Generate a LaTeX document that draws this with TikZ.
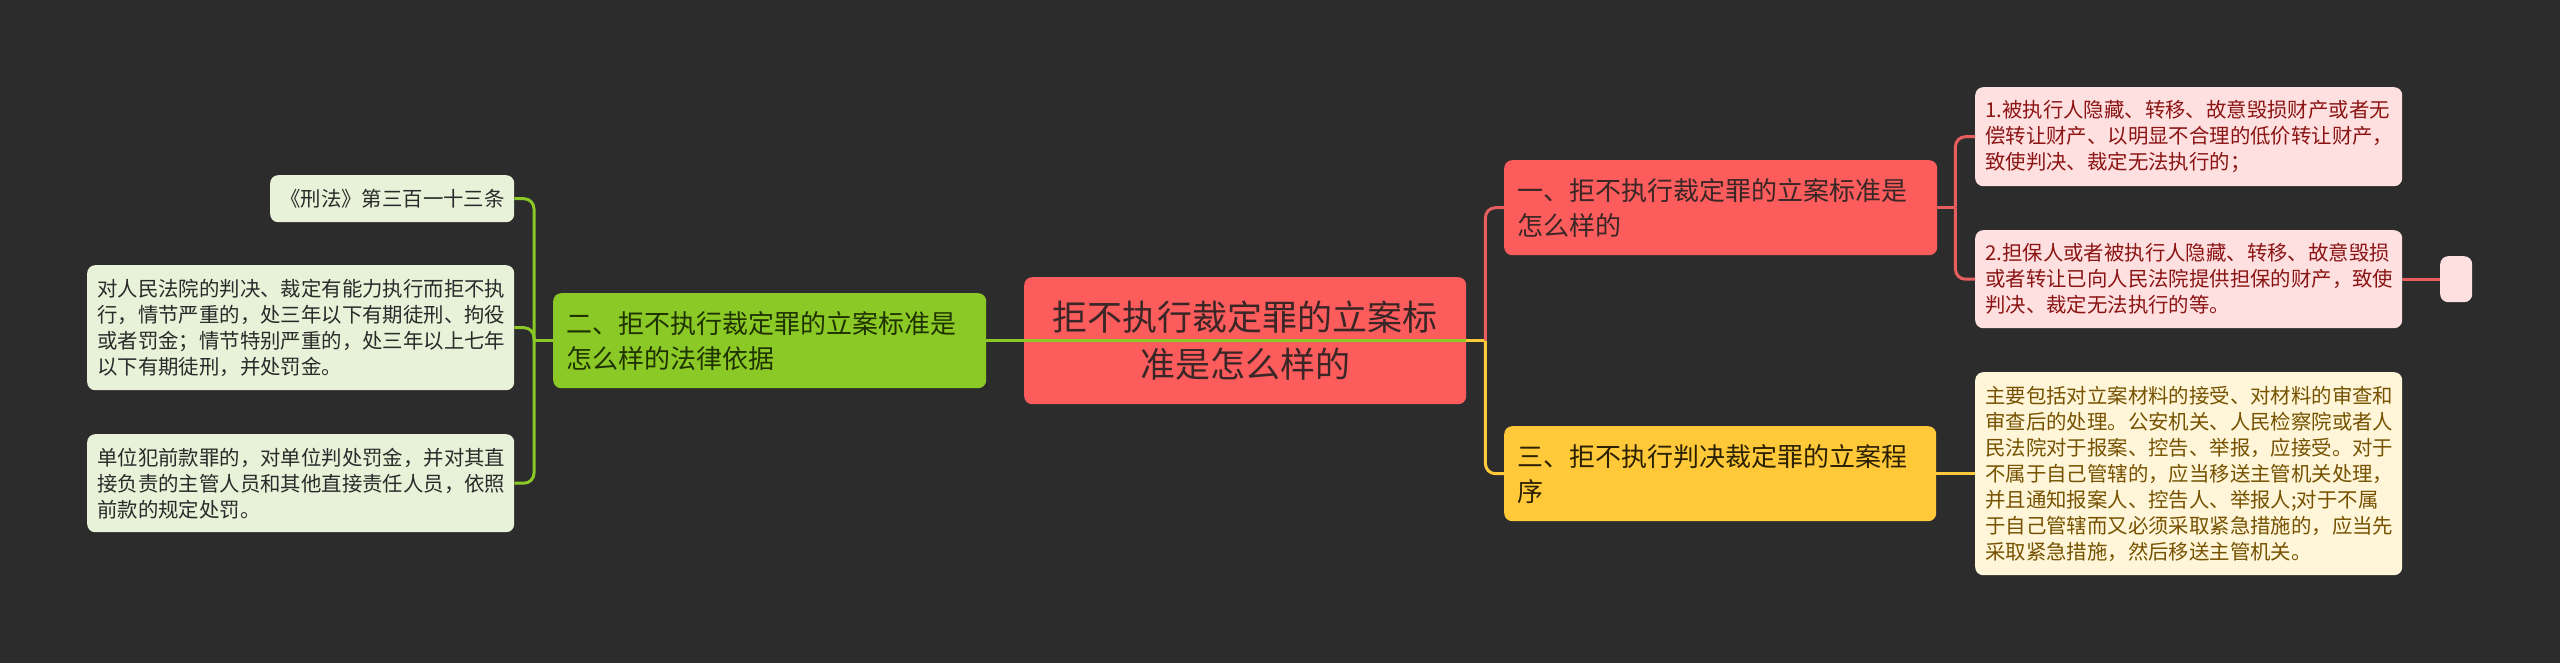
\documentclass[tikz,border=0pt]{standalone}
\usepackage{fontspec}
\setmainfont{Noto Sans CJK SC}
\usetikzlibrary{calc}
\definecolor{bg}{HTML}{2C2C2C}
\definecolor{redF}{HTML}{FD5C5C}
\definecolor{redT}{HTML}{3A2626}
\definecolor{greenF}{HTML}{8BC926}
\definecolor{greenT}{HTML}{1F3300}
\definecolor{yelF}{HTML}{FFC93A}
\definecolor{yelT}{HTML}{2B2100}
\definecolor{pinkF}{HTML}{FFE0E0}
\definecolor{pinkT}{HTML}{8B1414}
\definecolor{lgF}{HTML}{E8F2D8}
\definecolor{lgT}{HTML}{2A2A2A}
\definecolor{crF}{HTML}{FFF6DA}
\definecolor{crT}{HTML}{765200}
\definecolor{redL}{HTML}{E85E5E}
\tikzset{
  box/.style={anchor=north west, rounded corners=8pt, align=left, inner ysep=0pt},
  mainbox/.style={box, inner xsep=13pt, font=\fontsize{26}{35}\selectfont},
  leafbox/.style={box, inner xsep=10pt, font=\fontsize{20.4}{26}\selectfont},
  conn/.style={line width=3pt, rounded corners=10pt},
}
\begin{document}
\begin{tikzpicture}[x=1pt,y=-1pt]
\fill[bg] (0,0) rectangle (2560,663);
\useasboundingbox (0,0) rectangle (2560,663);

% central node
\node[box, fill=redF, text=redT, align=center, inner xsep=0pt, minimum width=442pt, minimum height=127pt, text width=442pt, font=\fontsize{35}{47}\selectfont] (center) at (1024,277) {拒不执行裁定罪的立案标\\准是怎么样的};

% main branches
\node[mainbox, fill=greenF, text=greenT, minimum width=433pt, minimum height=95pt, text width=407pt] (green) at (553,293) {二、拒不执行裁定罪的立案标准是\\怎么样的法律依据};
\node[mainbox, fill=redF, text=redT, minimum width=433pt, minimum height=95pt, text width=407pt] (red) at (1504,160) {一、拒不执行裁定罪的立案标准是\\怎么样的};
\node[mainbox, fill=yelF, text=yelT, minimum width=432pt, minimum height=95pt, text width=406pt] (yellow) at (1504,426) {三、拒不执行判决裁定罪的立案程\\序};

% left leaves
\node[leafbox, fill=lgF, text=lgT, minimum width=244pt, minimum height=47pt, text width=224pt] (g1) at (270,175) {《刑法》第三百一十三条};
\node[leafbox, fill=lgF, text=lgT, minimum width=427pt, minimum height=125pt, text width=407pt] (g2) at (87,265) {对人民法院的判决、裁定有能力执行而拒不执\\行，情节严重的，处三年以下有期徒刑、拘役\\或者罚金；情节特别严重的，处三年以上七年\\以下有期徒刑，并处罚金。};
\node[leafbox, fill=lgF, text=lgT, minimum width=427pt, minimum height=98pt, text width=407pt] (g3) at (87,434) {单位犯前款罪的，对单位判处罚金，并对其直\\接负责的主管人员和其他直接责任人员，依照\\前款的规定处罚。};

% right leaves
\node[leafbox, fill=pinkF, text=pinkT, minimum width=427pt, minimum height=99pt, text width=407pt] (r1) at (1975,87) {1.被执行人隐藏、转移、故意毁损财产或者无\\偿转让财产、以明显不合理的低价转让财产，\\致使判决、裁定无法执行的；};
\node[leafbox, fill=pinkF, text=pinkT, minimum width=427pt, minimum height=98pt, text width=407pt] (r2) at (1975,230) {2.担保人或者被执行人隐藏、转移、故意毁损\\或者转让已向人民法院提供担保的财产，致使\\判决、裁定无法执行的等。};
\node[box, fill=pinkF, minimum width=32pt, minimum height=46pt, inner sep=0pt] (small) at (2440,256) {};
\node[leafbox, fill=crF, text=crT, minimum width=427pt, minimum height=203pt, text width=407pt] (y1) at (1975,372) {主要包括对立案材料的接受、对材料的审查和\\审查后的处理。公安机关、人民检察院或者人\\民法院对于报案、控告、举报，应接受。对于\\不属于自己管辖的，应当移送主管机关处理，\\并且通知报案人、控告人、举报人;对于不属\\于自己管辖而又必须采取紧急措施的，应当先\\采取紧急措施，然后移送主管机关。};

% buses
\coordinate (cbus) at ($(center.east)+(19,0)$);
\coordinate (lbus) at ($(green.west)+(-19,0)$);
\coordinate (rbus) at ($(red.east)+(18,0)$);

% connectors
\draw[conn, yelF] (center.east) -- (cbus);
\draw[conn, redL] (cbus) |- (red.west);
\draw[conn, yelF] (cbus) |- (yellow.west);
\draw[conn, greenF] (green.west) -- (lbus);
\draw[conn, greenF] (lbus) |- (g1.east);
\draw[conn, greenF] (lbus) |- (g2.east);
\draw[conn, greenF] (lbus) |- (g3.east);
\draw[conn, redL] (red.east) -- (rbus);
\draw[conn, redL] (rbus) |- (r1.west);
\draw[conn, redL] (rbus) |- (r2.west);
\draw[conn, redL] (r2.east) -- (small.west);
\draw[conn, yelF] (yellow.east) -- (y1.west);
% green line crossing the central node
\draw[conn, greenF] (green.east) -- (center.east);
\end{tikzpicture}
\end{document}
